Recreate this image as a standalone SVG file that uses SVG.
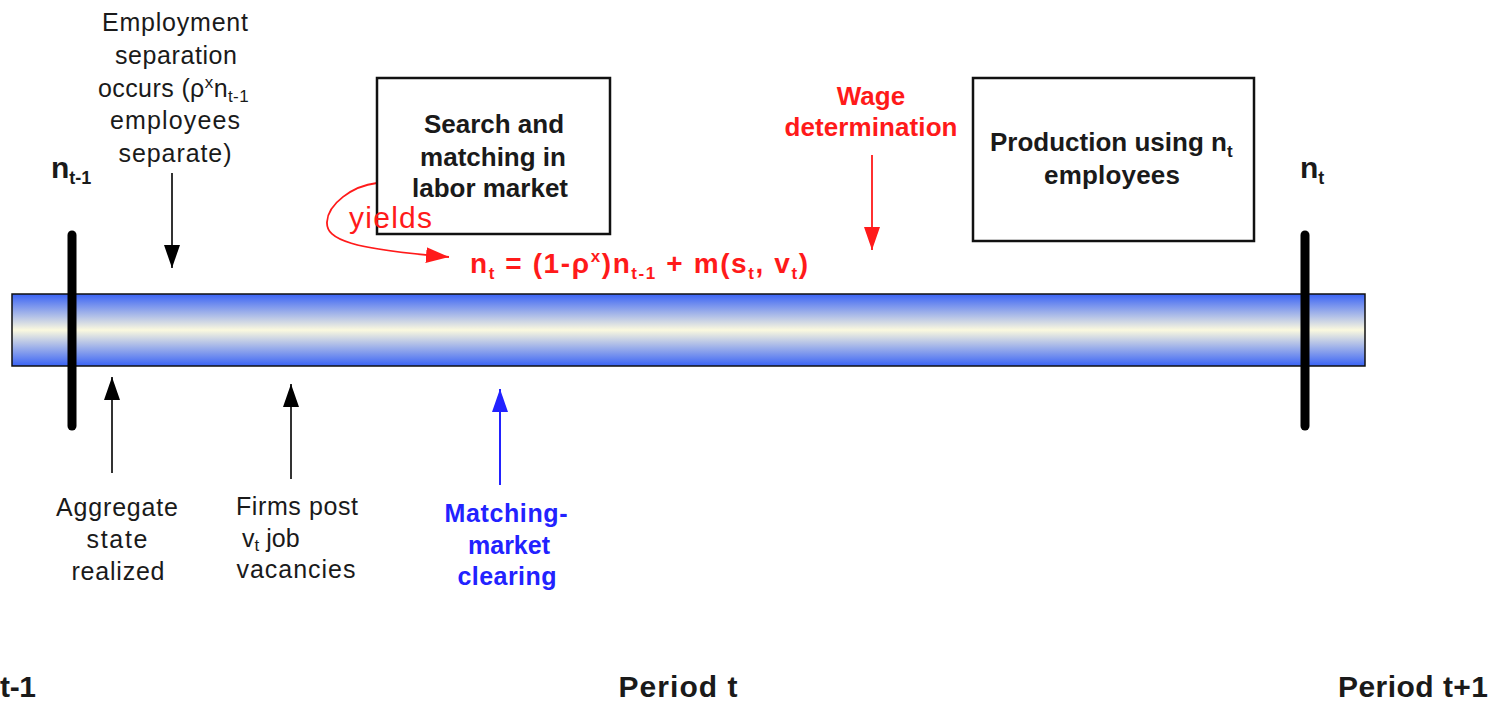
<svg xmlns="http://www.w3.org/2000/svg" width="1498" height="701" viewBox="0 0 1498 701">
<defs>
<linearGradient id="barGrad" x1="0" y1="0" x2="0" y2="1">
<stop offset="0" stop-color="#3a63f5"/>
<stop offset="0.5" stop-color="#fbf9df"/>
<stop offset="1" stop-color="#3a63f5"/>
</linearGradient>
<marker id="ahBlack" markerUnits="userSpaceOnUse" markerWidth="26" markerHeight="18" refX="23" refY="8" orient="auto"><path d="M0,0 L23,8 L0,16 z" fill="#000"/></marker>
<marker id="ahRed" markerUnits="userSpaceOnUse" markerWidth="26" markerHeight="18" refX="23" refY="8" orient="auto"><path d="M0,0 L23,8 L0,16 z" fill="#ff1a1a"/></marker>
<marker id="ahBlue" markerUnits="userSpaceOnUse" markerWidth="26" markerHeight="18" refX="23" refY="8" orient="auto"><path d="M0,0 L23,8 L0,16 z" fill="#2222ff"/></marker>
<style>
text{font-family:"Liberation Sans",Arial,sans-serif;font-size:25px;fill:#1a1a1a;text-anchor:middle}
.b{font-weight:bold}
.red{fill:#ff1a1a}
.blue{fill:#2222ff}
.sub{font-size:17px}
.box{fill:#fff;stroke:#111;stroke-width:2.5}
.tick{stroke:#000;stroke-width:9;stroke-linecap:round}
.arr{stroke:#333;stroke-width:2;fill:none;marker-end:url(#ahBlack)}
.arrR{stroke:#ff1a1a;stroke-width:1.8;fill:none;marker-end:url(#ahRed)}
.arrB{stroke:#2222ff;stroke-width:2;fill:none;marker-end:url(#ahBlue)}
</style>
</defs>
<rect width="1498" height="701" fill="#fff"/>

<g id="timeline">
<rect x="12" y="294" width="1353" height="72" fill="url(#barGrad)" stroke="#111" stroke-width="1.5"/>
<line class="tick" x1="72" y1="235" x2="72" y2="426"/>
<line class="tick" x1="1305" y1="235" x2="1305" y2="426"/>
</g>

<g id="connectors">
<line class="arr" x1="172" y1="173" x2="172" y2="268"/>
<line class="arr" x1="112" y1="473" x2="112" y2="377"/>
<line class="arr" x1="291" y1="479" x2="291" y2="384"/>
<line class="arrB" x1="500" y1="485" x2="500" y2="389"/>
<line class="arrR" x1="872" y1="155" x2="872" y2="250"/>
<path class="arrR" d="M377,183 C352,186 328,204 327,222 C326,240 352,249 449,257"/>
</g>

<g id="n_prev">
<text x="51" y="178" class="b" style="text-anchor:start;font-size:30px">n<tspan class="sub" dy="6" style="font-size:18px">t-1</tspan></text>
</g>
<g id="n_next">
<text x="1300" y="178" class="b" style="text-anchor:start;font-size:30px">n<tspan class="sub" dy="6" style="font-size:18px">t</tspan></text>
</g>

<g id="separation">
<text x="175" y="31" textLength="146">Employment</text>
<text x="176" y="64" textLength="122">separation</text>
<text x="98" y="97" style="text-anchor:start;letter-spacing:0.4px">occurs (ρ<tspan style="font-size:17px" dy="-9">x</tspan><tspan dy="9">n</tspan><tspan class="sub" dy="5">t-1</tspan></text>
<text x="175" y="129" textLength="130">employees</text>
<text x="175" y="162" textLength="113">separate)</text>
</g>

<g id="search">
<rect class="box" x="377" y="78" width="233" height="156"/>
<text x="494" y="133" class="b" style="font-size:26px">Search and</text>
<text x="493" y="166" class="b" style="font-size:26px">matching in</text>
<text x="490" y="197" class="b" style="font-size:26px">labor market</text>
</g>

<g id="yields">
<text x="349" y="228" class="red" style="text-anchor:start;font-size:30px" textLength="83">yields</text>
</g>

<g id="equation">
<text x="470" y="273" class="b red" style="text-anchor:start;font-size:28px;letter-spacing:1.6px">n<tspan class="sub" dy="6">t</tspan><tspan dy="-6"> = (1-ρ</tspan><tspan class="sub" dy="-11">x</tspan><tspan dy="11">)n</tspan><tspan class="sub" dy="6">t-1</tspan><tspan dy="-6"> + m(s</tspan><tspan class="sub" dy="6">t</tspan><tspan dy="-6">, v</tspan><tspan class="sub" dy="6">t</tspan><tspan dy="-6">)</tspan></text>
</g>

<g id="wage">
<text x="871" y="105" class="b red" style="font-size:26px">Wage</text>
<text x="871" y="136" class="b red" style="font-size:26px" textLength="173">determination</text>
</g>

<g id="production">
<rect class="box" x="973" y="78" width="281" height="163"/>
<text x="990" y="151" class="b" style="text-anchor:start;font-size:26px">Production using n<tspan class="sub" dy="6">t</tspan></text>
<text x="1112" y="184" class="b" style="font-size:26px" textLength="136">employees</text>
</g>

<g id="aggregate">
<text x="117" y="516" textLength="122">Aggregate</text>
<text x="117" y="548" textLength="61">state</text>
<text x="118" y="580" textLength="93">realized</text>
</g>

<g id="firms">
<text x="297" y="515" textLength="122">Firms post</text>
<text x="242" y="547" style="text-anchor:start">v<tspan class="sub" dy="4">t</tspan><tspan dy="-4"> job</tspan></text>
<text x="296" y="578" textLength="119">vacancies</text>
</g>

<g id="clearing">
<text x="506" y="522" class="b blue" textLength="123">Matching-</text>
<text x="509" y="554" class="b blue" textLength="82">market</text>
<text x="507" y="585" class="b blue" textLength="99">clearing</text>
</g>

<g id="periods">
<text x="0" y="697" class="b" style="text-anchor:start;font-size:30px" textLength="36">t-1</text>
<text x="678" y="697" class="b" style="font-size:30px" textLength="119">Period t</text>
<text x="1413" y="697" class="b" style="font-size:30px" textLength="150">Period t+1</text>
</g>
</svg>
